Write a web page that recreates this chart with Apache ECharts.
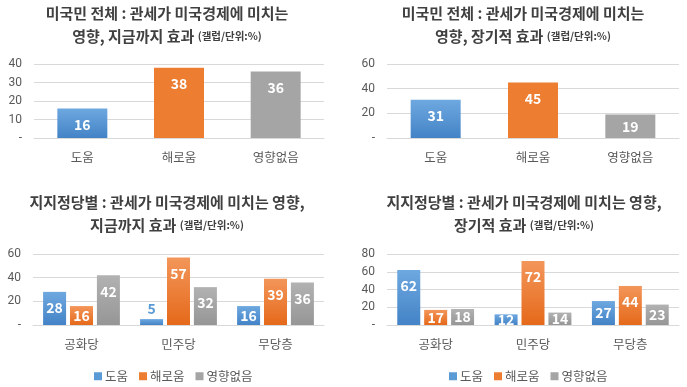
<!DOCTYPE html>
<html><head><meta charset="utf-8">
<script src="https://cdn.jsdelivr.net/npm/echarts@6/dist/echarts.min.js"></script>
<style>html,body{margin:0;padding:0;background:#fff}#c{width:687px;height:387px}</style>
</head><body><div id="c"></div>
<script>
// ---- data ----
const catsTotal = ['도움', '해로움', '영향없음'];
const totalNow = [16, 38, 36];
const totalLong = [31, 45, 19];
const catsParty = ['공화당', '민주당', '무당층'];
const seriesNames = ['도움', '해로움', '영향없음'];
const partyNowHelp = [28, 5, 16];
const partyNowHarm = [16, 57, 39];
const partyNowNone = [42, 32, 36];
const partyLongHelp = [62, 12, 27];
const partyLongHarm = [17, 72, 44];
const partyLongNone = [18, 14, 23];
const titles = [
  ['미국민 전체 : 관세가 미국경제에 미치는', '영향, 지금까지 효과 '],
  ['미국민 전체 : 관세가 미국경제에 미치는', '영향, 장기적 효과 '],
  ['지지정당별 : 관세가 미국경제에 미치는 영향,', '지금까지 효과 '],
  ['지지정당별 : 관세가 미국경제에 미치는 영향,', '장기적 효과 ']
];
const unitText = '(갤럽/단위:%)';
const axisMax = [40, 60, 60, 80];
const axisInterval = [10, 20, 20, 20];

// ---- styles ----
const FONT = '"Noto Sans CJK KR", "Noto Sans", sans-serif';
function grad(top, bottom) {
  return new echarts.graphic.LinearGradient(0, 0, 0, 1, [{offset: 0, color: top}, {offset: 1, color: bottom}]);
}
const blue = grad('#6EA8E0', '#4383C6');
const orangeFlat = '#ED7D31';
const grayFlat = '#A5A5A5';
const orangeGrad = grad('#F3965A', '#E5691A');
const grayGrad = grad('#B2B2B2', '#969696');
const legendColors = ['#5B9BD5', '#ED7D31', '#A5A5A5'];

function labelFor(v, max, colorOutside) {
  const f = v / max;
  if (f < 0.1) return {show: true, position: 'top', distance: 3, color: colorOutside, fontSize: 14, fontWeight: 'bold', fontFamily: FONT, textBorderColor: '#fff', textBorderWidth: 2};
  if (f < 0.35) return {show: true, position: 'inside', color: '#fff', fontSize: 14, fontWeight: 'bold', fontFamily: FONT};
  return {show: true, position: 'insideTop', distance: 9, color: '#fff', fontSize: 14, fontWeight: 'bold', fontFamily: FONT};
}

const grids = [
  {left: 34, right: 363, top: 64, bottom: 249},
  {left: 387, right: 8, top: 64, bottom: 249},
  {left: 33, right: 363, top: 254, bottom: 62},
  {left: 387, right: 8, top: 254, bottom: 62}
];
const titlePos = [
  {x: 167, y: 2}, {x: 523, y: 2}, {x: 167, y: 191}, {x: 524, y: 191}
];

const xAxes = [catsTotal, catsTotal, catsParty, catsParty].map((c, i) => ({
  type: 'category', gridIndex: i, data: c,
  axisLine: {show: true, lineStyle: {color: '#D9D9D9', width: 1}},
  axisTick: {show: false},
  axisLabel: {color: '#595959', fontSize: 12.5, fontFamily: FONT, margin: 13}
}));
const yAxes = axisMax.map((m, i) => ({
  type: 'value', gridIndex: i, min: 0, max: m, interval: axisInterval[i],
  axisLine: {show: false}, axisTick: {show: false},
  splitLine: {lineStyle: {color: '#D9D9D9', width: 1}},
  axisLabel: {color: '#595959', fontSize: 12, fontFamily: 'Roboto, "Noto Sans", sans-serif', margin: 12,
    formatter: v => v === 0 ? '-' : String(v)}
}));

function singleSeries(vals, gi) {
  const colors = [blue, orangeFlat, grayFlat];
  return {
    type: 'bar', xAxisIndex: gi, yAxisIndex: gi, barWidth: 50,
    data: vals.map((v, k) => ({value: v, itemStyle: {color: colors[k]}, label: labelFor(v, axisMax[gi], legendColors[k])})),
    z: 1
  };
}
function groupSeries(name, vals, gi, color, lc) {
  return {
    name: name, type: 'bar', xAxisIndex: gi, yAxisIndex: gi, barWidth: 23, barGap: '17%',
    itemStyle: {color: color},
    data: vals.map(v => ({value: v, label: labelFor(v, axisMax[gi], lc)}))
  };
}

const series = [
  singleSeries(totalNow, 0),
  singleSeries(totalLong, 1),
  groupSeries(seriesNames[0], partyNowHelp, 2, blue, legendColors[0]),
  groupSeries(seriesNames[1], partyNowHarm, 2, orangeGrad, legendColors[1]),
  groupSeries(seriesNames[2], partyNowNone, 2, grayGrad, legendColors[2]),
  groupSeries(seriesNames[0], partyLongHelp, 3, blue, legendColors[0]),
  groupSeries(seriesNames[1], partyLongHarm, 3, orangeGrad, legendColors[1]),
  groupSeries(seriesNames[2], partyLongNone, 3, grayGrad, legendColors[2])
];

const title = titles.map((t, i) => ({
  text: '{b|' + t[0] + '}\n{b|' + t[1] + '}{s|' + unitText + '}',
  left: titlePos[i].x, top: titlePos[i].y, textAlign: 'center', padding: 0,
  textStyle: {
    rich: {
      b: {fontSize: 15, fontWeight: 'bold', color: '#404040', fontFamily: FONT, lineHeight: 23},
      s: {fontSize: 10.5, color: '#404040', fontFamily: FONT, lineHeight: 23}
    }
  }
}));

const legendCommon = {
  data: seriesNames.map((n, k) => ({name: n, itemStyle: {color: legendColors[k]}})),
  icon: 'rect', itemWidth: 8, itemHeight: 8, itemGap: 11,
  textStyle: {color: '#595959', fontSize: 12.5, fontFamily: FONT, padding: [0, 0, 0, -2]},
  selectedMode: false, top: 365
};

const chart = echarts.init(document.getElementById('c'), null, {renderer: 'canvas'});
chart.setOption({
  backgroundColor: '#fff',
  animation: false,
  title: title,
  grid: grids,
  xAxis: xAxes,
  yAxis: yAxes,
  legend: [
    Object.assign({left: 89}, legendCommon),
    Object.assign({left: 444}, legendCommon)
  ],
  series: series
});
</script></body></html>
